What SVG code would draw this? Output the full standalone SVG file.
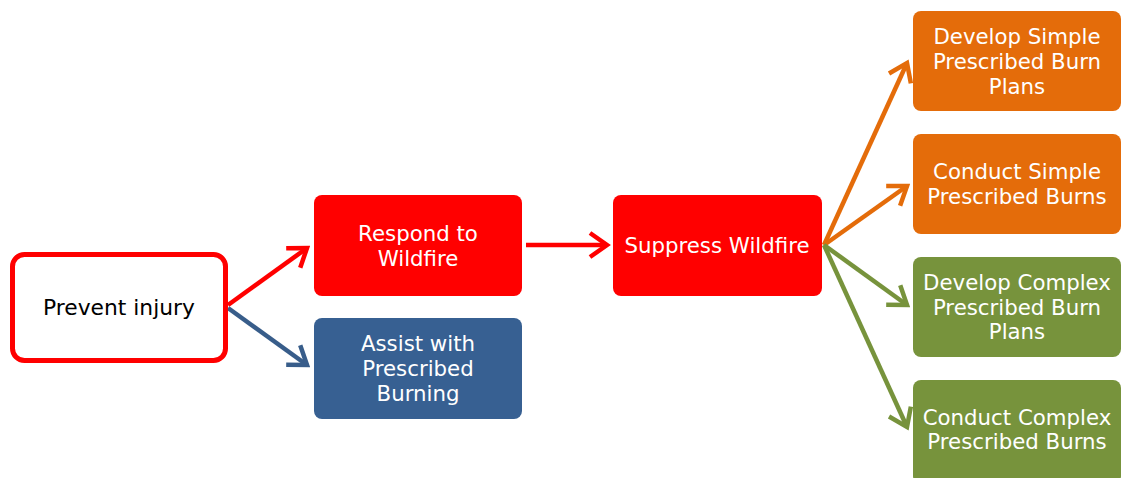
<svg xmlns="http://www.w3.org/2000/svg" width="1121" height="478" viewBox="0 0 1121 478">
<style>
text{font-family:"DejaVu Sans","Liberation Sans",sans-serif;font-size:21.3px;text-anchor:middle;fill:#fff}
.dark{fill:#000;font-size:21.8px}
.c{fill:none;stroke-width:4.5}
</style>
<defs>
<marker id="mr" viewBox="-22 -16 26 32" refX="0" refY="0" markerWidth="26" markerHeight="32" markerUnits="userSpaceOnUse" orient="auto"><path d="M-17,-12 L0,0 L-17,12" fill="none" stroke="#FF0000" stroke-width="4.5"/></marker>
<marker id="mb" viewBox="-22 -16 26 32" refX="0" refY="0" markerWidth="26" markerHeight="32" markerUnits="userSpaceOnUse" orient="auto"><path d="M-17,-12 L0,0 L-17,12" fill="none" stroke="#385D8A" stroke-width="4.5"/></marker>
<marker id="mo" viewBox="-22 -16 26 32" refX="0" refY="0" markerWidth="26" markerHeight="32" markerUnits="userSpaceOnUse" orient="auto"><path d="M-17,-12 L0,0 L-17,12" fill="none" stroke="#E46C0A" stroke-width="4.5"/></marker>
<marker id="mg" viewBox="-22 -16 26 32" refX="0" refY="0" markerWidth="26" markerHeight="32" markerUnits="userSpaceOnUse" orient="auto"><path d="M-17,-12 L0,0 L-17,12" fill="none" stroke="#77933C" stroke-width="4.5"/></marker>
</defs>
<g id="connectors">
<line class="c" x1="228" y1="305" x2="307" y2="248" stroke="#FF0000" marker-end="url(#mr)"/>
<line class="c" x1="228" y1="308" x2="307" y2="365" stroke="#385D8A" marker-end="url(#mb)"/>
<line class="c" x1="526" y1="245" x2="607" y2="245" stroke="#FF0000" marker-end="url(#mr)"/>
<line class="c" x1="824" y1="245" x2="907" y2="63" stroke="#E46C0A" marker-end="url(#mo)"/>
<line class="c" x1="824" y1="245" x2="907" y2="186" stroke="#E46C0A" marker-end="url(#mo)"/>
<line class="c" x1="824" y1="245" x2="907" y2="305" stroke="#77933C" marker-end="url(#mg)"/>
<line class="c" x1="824" y1="245" x2="907" y2="427" stroke="#77933C" marker-end="url(#mg)"/>
</g>
<g id="prevent"><rect x="12.5" y="254.5" width="213" height="106" rx="12" fill="#fff" stroke="#FF0000" stroke-width="5"/><text class="dark" x="119" y="315">Prevent injury</text></g>
<g id="respond"><rect x="314" y="195" width="208" height="101" rx="8" fill="#FF0000"/><text x="418" y="241">Respond to</text><text x="418" y="266">Wildfire</text></g>
<g id="assist"><rect x="314" y="318" width="208" height="101" rx="8" fill="#376092"/><text x="418" y="351">Assist with</text><text x="418" y="376">Prescribed</text><text x="418" y="401">Burning</text></g>
<g id="suppress"><rect x="613" y="195" width="209" height="101" rx="8" fill="#FF0000"/><text x="717" y="253">Suppress Wildfire</text></g>
<g id="dev-simple"><rect x="913" y="11" width="208" height="100" rx="8" fill="#E46C0A"/><text x="1017" y="44">Develop Simple</text><text x="1017" y="69">Prescribed Burn</text><text x="1017" y="94">Plans</text></g>
<g id="con-simple"><rect x="913" y="134" width="208" height="100" rx="8" fill="#E46C0A"/><text x="1017" y="179">Conduct Simple</text><text x="1017" y="204">Prescribed Burns</text></g>
<g id="dev-complex"><rect x="913" y="257" width="208" height="100" rx="8" fill="#77933C"/><text x="1017" y="290">Develop Complex</text><text x="1017" y="315">Prescribed Burn</text><text x="1017" y="339">Plans</text></g>
<g id="con-complex"><rect x="913" y="380" width="208" height="104" rx="8" fill="#77933C"/><text x="1017" y="425">Conduct Complex</text><text x="1017" y="449">Prescribed Burns</text></g>
</svg>
